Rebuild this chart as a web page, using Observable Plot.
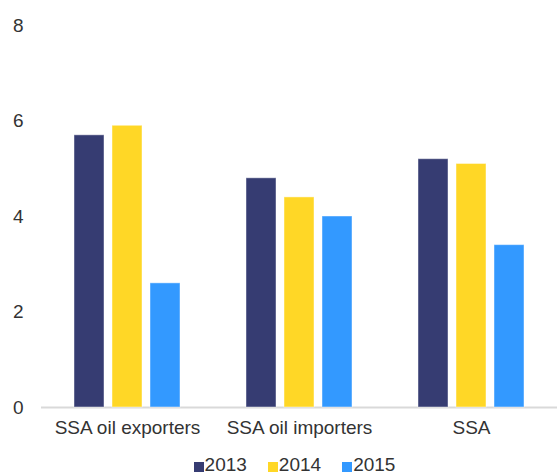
<!DOCTYPE html>
<html>
<head>
<meta charset="utf-8">
<script src="https://cdn.jsdelivr.net/npm/d3@7"></script>
<script src="https://cdn.jsdelivr.net/npm/@observablehq/plot@0.6"></script>
<style>
  body { margin: 0; background: #fff; font-family: "Liberation Sans", Arial, sans-serif; }
  #legend { display: flex; justify-content: center; gap: 21px; padding-left: 32px; width: 525px; margin-top: 10px; font-size: 19px; line-height: 20px; color: #333; }
  #legend .item { display: flex; align-items: center; }
  #legend .sw { width: 10px; height: 10px; margin-right: 1px; margin-top: 3px; }
</style>
</head>
<body>
<div id="chart"></div>
<div id="legend"></div>
<script>
const categories = ["SSA oil exporters", "SSA oil importers", "SSA"];
const years = ["2013", "2014", "2015"];
const values2013 = [5.7, 4.8, 5.2];
const values2014 = [5.9, 4.4, 5.1];
const values2015 = [2.6, 4.0, 3.4];
const yTicks = [0, 2, 4, 6, 8];
const colors = ["#363c72", "#ffd726", "#3399ff"];

const series = [values2013, values2014, values2015];
const data = [];
categories.forEach((c, i) => years.forEach((y, j) => data.push({category: c, year: y, value: series[j][i]})));

const chart = Plot.plot({
  width: 557,
  height: 445,
  marginTop: 25,
  marginBottom: 38,
  marginLeft: 41,
  marginRight: 0,
  style: {fontSize: "19px", fontFamily: "'Liberation Sans', Arial, sans-serif", color: "#333", background: "#fff"},
  facet: {data, x: "category"},
  fx: {domain: categories, padding: 0, label: null, tickSize: 0, tickPadding: 13, axis: "bottom"},
  x: {domain: years, paddingInner: 0.21, paddingOuter: 0.84, axis: null},
  y: {domain: [0, 8], ticks: yTicks, tickSize: 0, tickPadding: 18, label: null, grid: false},
  color: {domain: years, range: colors},
  marks: [
    Plot.ruleY([0], {stroke: "#d9d9d9", strokeWidth: 2}),
    Plot.barY(data, {x: "year", y: "value", fill: "year", stroke: "#ffffff", strokeOpacity: 0.45, strokeWidth: 1})
  ]
});
document.getElementById("chart").appendChild(chart);

const legend = document.getElementById("legend");
years.forEach((y, i) => {
  const it = document.createElement("div");
  it.className = "item";
  const sw = document.createElement("span");
  sw.className = "sw";
  sw.style.background = colors[i];
  const t = document.createElement("span");
  t.textContent = y;
  it.appendChild(sw); it.appendChild(t);
  legend.appendChild(it);
});
</script>
</body>
</html>
